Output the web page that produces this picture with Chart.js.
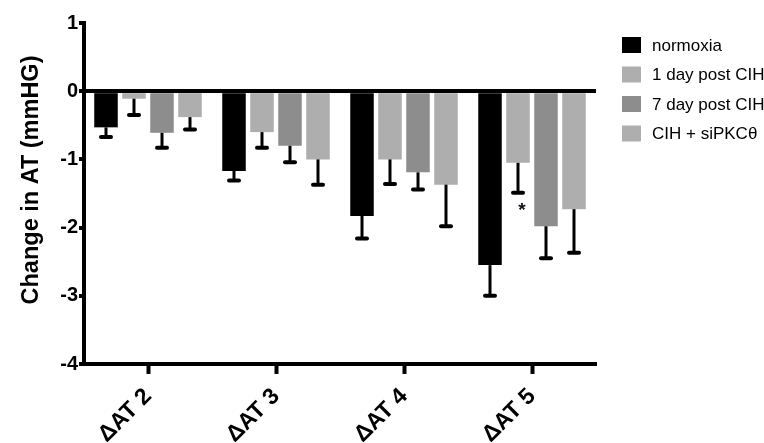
<!DOCTYPE html>
<html>
<head>
<meta charset="utf-8">
<script src="https://cdn.jsdelivr.net/npm/chart.js@4"></script>
<style>
  html, body { margin: 0; padding: 0; background: #ffffff; }
  #wrap { width: 764px; height: 443px; }
</style>
</head>
<body>
<div id="wrap"><canvas id="chart" width="764" height="443"></canvas></div>
<script>
// Change in arterial tone per step, mean with one-sided (downward) error
const categories = ['ΔAT 2', 'ΔAT 3', 'ΔAT 4', 'ΔAT 5'];
const seriesNames = ['normoxia', '1 day post CIH', '7 day post CIH', 'CIH + siPKCθ'];

const normoxia      = [-0.53, -1.17, -1.83, -2.55];
const normoxiaErr   = [0.14, 0.14, 0.33, 0.45];
const day1CIH       = [-0.11, -0.60, -1.00, -1.05];
const day1CIHErr    = [0.24, 0.23, 0.36, 0.44];
const day7CIH       = [-0.61, -0.80, -1.19, -1.98];
const day7CIHErr    = [0.22, 0.24, 0.25, 0.47];
const siPKC         = [-0.38, -1.00, -1.37, -1.73];
const siPKCErr      = [0.18, 0.37, 0.61, 0.64];

const yTicks = [1, 0, -1, -2, -3, -4];
const yTitle = 'Change in AT (mmHG)';

// significance marker: series index, category index, symbol
const sigSeries = 1;
const sigCategory = 3;
const sigSymbol = '*';

const colors = ['#000000', '#aeaeae', '#8d8d8d', '#aeaeae'];
const values = [normoxia, day1CIH, day7CIH, siPKC];
const errors = [normoxiaErr, day1CIHErr, day7CIHErr, siPKCErr];

const FONT = '"Liberation Sans", Arial, sans-serif';

const errorBars = {
  id: 'errorBars',
  afterDatasetsDraw(chart) {
    const ctx = chart.ctx;
    const y = chart.scales.y;
    ctx.save();
    ctx.strokeStyle = '#000';
    chart.data.datasets.forEach((ds, di) => {
      const meta = chart.getDatasetMeta(di);
      meta.data.forEach((bar, i) => {
        const v = ds.data[i];
        const e = ds.errors[i];
        const y0 = y.getPixelForValue(v);
        const y1 = y.getPixelForValue(v - e);
        ctx.lineCap = 'butt';
        ctx.lineWidth = 3;
        ctx.beginPath();
        ctx.moveTo(bar.x, y0);
        ctx.lineTo(bar.x, y1);
        ctx.stroke();
        ctx.lineCap = 'round';
        ctx.lineWidth = 4;
        ctx.beginPath();
        ctx.moveTo(bar.x - 5, y1);
        ctx.lineTo(bar.x + 5, y1);
        ctx.stroke();
        if (di === sigSeries && i === sigCategory) {
          ctx.fillStyle = '#111122';
          ctx.font = 'bold 19px ' + FONT;
          ctx.textAlign = 'center';
          ctx.textBaseline = 'middle';
          ctx.fillText(sigSymbol, bar.x + 4, y1 + 18);
        }
      });
    });
    ctx.restore();
  }
};

const sideDecor = {
  id: 'sideDecor',
  afterDraw(chart) {
    const ctx = chart.ctx;
    ctx.save();
    // y axis title
    ctx.translate(32, 180);
    ctx.rotate(-Math.PI / 2);
    ctx.fillStyle = '#000';
    ctx.font = 'bold 23.5px ' + FONT;
    ctx.textAlign = 'center';
    ctx.textBaseline = 'middle';
    ctx.fillText(yTitle, 0, 0);
    ctx.restore();

    // legend
    ctx.save();
    ctx.font = '17px ' + FONT;
    ctx.textAlign = 'left';
    ctx.textBaseline = 'middle';
    chart.data.datasets.forEach((ds, i) => {
      const cy = 45 + i * 29.5;
      ctx.fillStyle = ds.backgroundColor;
      ctx.fillRect(622, cy - 8, 19, 16);
      ctx.fillStyle = '#000';
      ctx.fillText(ds.label, 652, cy + 1);
    });
    ctx.restore();
  }
};

new Chart(document.getElementById('chart'), {
  type: 'bar',
  data: {
    labels: categories,
    datasets: seriesNames.map((name, i) => ({
      label: name,
      data: values[i],
      errors: errors[i],
      backgroundColor: colors[i],
      borderWidth: 0,
      categoryPercentage: 0.875,
      barPercentage: 0.84
    }))
  },
  options: {
    responsive: false,
    animation: false,
    layout: { padding: { left: 0, right: 168, top: 23, bottom: 0 } },
    plugins: { legend: { display: false }, tooltip: { enabled: false } },
    scales: {
      x: {
        offset: true,
        grid: {
          offset: false,
          drawOnChartArea: false,
          drawTicks: true,
          tickLength: 10,
          tickWidth: 4,
          tickColor: '#000'
        },
        border: { display: true, width: 4, color: '#000' },
        ticks: {
          color: '#000',
          font: { family: FONT, size: 23, weight: 'bold' },
          minRotation: 45,
          maxRotation: 45,
          padding: 9
        },
        afterFit(scale) { scale.height = 79; }
      },
      y: {
        min: -4,
        max: 1,
        afterBuildTicks(scale) { scale.ticks = yTicks.map(v => ({ value: v })); },
        grid: {
          drawOnChartArea: true,
          drawTicks: true,
          tickLength: 5,
          tickWidth: 4,
          tickColor: '#000',
          color: ctx => (ctx.tick && ctx.tick.value === 0) ? '#000' : 'rgba(0,0,0,0)',
          lineWidth: ctx => (ctx.tick && ctx.tick.value === 0) ? 4 : 0
        },
        border: { display: true, width: 4, color: '#000' },
        ticks: {
          color: '#000',
          font: { family: FONT, size: 20, weight: 'bold' },
          padding: 1
        },
        afterFit(scale) { scale.width = 84; }
      }
    }
  },
  plugins: [errorBars, sideDecor]
});
</script>
</body>
</html>
